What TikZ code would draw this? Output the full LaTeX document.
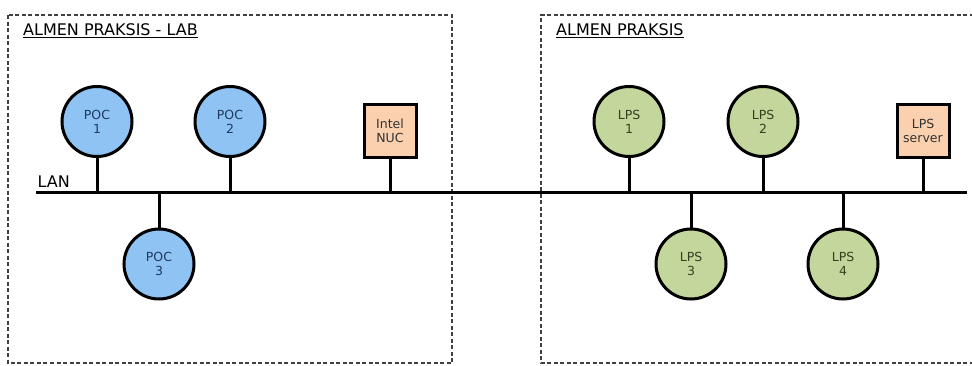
\documentclass[tikz,border=0pt]{standalone}
\usepackage{fontspec}
\setmainfont{DejaVu Sans}
\definecolor{pcblue}{HTML}{8EC3F4}
\definecolor{lpsgreen}{HTML}{C3D69B}
\definecolor{srvorange}{HTML}{FBD0AE}
\definecolor{boxgray}{HTML}{404040}
\definecolor{bluetxt}{HTML}{1F3A5F}
\definecolor{greentxt}{HTML}{34401F}
\begin{document}
\begin{tikzpicture}[x=1pt,y=-1pt,
  zone/.style={draw=boxgray, line width=1.1pt, dash pattern=on 4pt off 2.5pt},
  ztitle/.style={font=\fontsize{16}{19}\selectfont, inner sep=0pt, anchor=base west},
  pc/.style={circle, draw=black, line width=3pt, minimum size=70pt, inner sep=0pt,
    align=center, font=\fontsize{12.5}{15}\selectfont},
  poc/.style={pc, fill=pcblue, text=bluetxt},
  lps/.style={pc, fill=lpsgreen, text=greentxt},
  srv/.style={rectangle, draw=black, line width=3pt, fill=srvorange, minimum width=52pt,
    minimum height=53pt, inner sep=0pt, align=center, text=black!80,
    font=\fontsize{12.5}{15}\selectfont},
  bus/.style={draw=black, line width=3pt},
  stub/.style={draw=black, line width=3pt}]
\useasboundingbox (0,0) rectangle (972,365);
\fill[white] (0,0) rectangle (972,365);
% zones
\draw[zone] (8,15) rectangle (452,363);
\draw[zone] (980,15) -- (541,15) -- (541,363) -- (980,363);
\node[ztitle] (t1) at (23,35) {ALMEN PRAKSIS - LAB};
\node[ztitle] (t2) at (556,35) {ALMEN PRAKSIS};
\draw[line width=1pt] ([yshift=-2.8pt]t1.base west) -- ([yshift=-2.8pt]t1.base east);
\draw[line width=1pt] ([yshift=-2.8pt]t2.base west) -- ([yshift=-2.8pt]t2.base east);
% LAN bus
\coordinate (lanL) at (36,192);
\coordinate (lanR) at (967,192);
\draw[bus] (lanL) -- (lanR);
\node[ztitle] (lan) at (37.5,187.5) {LAN};
% nodes
\node[poc] (poc1) at (97,121.5) {POC\\[-1pt]1};
\node[poc] (poc2) at (230,121.5) {POC\\[-1pt]2};
\node[poc] (poc3) at (159,264) {POC\\[-1pt]3};
\node[srv] (nuc) at (390,131) {Intel\\[-1pt]NUC};
\node[lps] (lps1) at (629,121.5) {LPS\\[-1pt]1};
\node[lps] (lps2) at (763,121.5) {LPS\\[-1pt]2};
\node[lps] (lps3) at (691,264) {LPS\\[-1pt]3};
\node[lps] (lps4) at (843,264) {LPS\\[-1pt]4};
\node[srv] (server) at (923,131) {LPS\\[-1pt]server};
% stubs
\foreach \n in {poc1,poc2,nuc,lps1,lps2,server}
  \draw[stub] (\n.south) -- (\n.south |- lanL);
\foreach \n in {poc3,lps3,lps4}
  \draw[stub] (\n.north) -- (\n.north |- lanL);
\end{tikzpicture}
\end{document}
